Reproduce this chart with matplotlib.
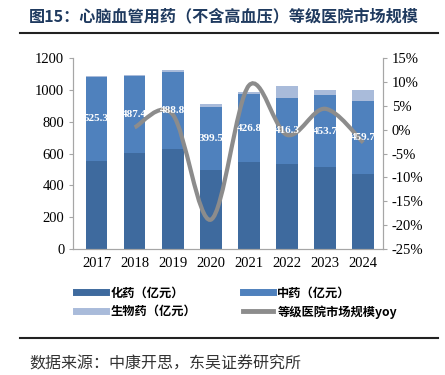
import numpy as np
import matplotlib
matplotlib.use("Agg")
import matplotlib.pyplot as plt
from matplotlib.path import Path
from matplotlib.patches import PathPatch
from matplotlib.lines import Line2D

# data
years = ["2017", "2018", "2019", "2020", "2021", "2022", "2023", "2024"]
chem = [555, 602, 626, 496, 546, 534, 514, 473]          # 化药
tcm = [525.3, 487.4, 488.8, 399.5, 426.8, 416.3, 453.7, 459.7]  # 中药
bio = [8, 8, 11, 16, 12, 75, 30, 65]                     # 生物药
yoy_years = ["2018", "2019", "2020", "2021", "2022", "2023", "2024"]
yoy = [0.5, 3.2, -18.9, 9.3, -1.1, 4.4, -2.7]            # 等级医院市场规模yoy (%)

c_chem = "#3E6A9E"
c_tcm = "#4F81BD"
c_bio = "#A9BBDA"
c_line = "#8C8C8C"

serif = "Liberation Serif"
cjk = ["Noto Sans CJK SC", "DejaVu Sans"]

fig = plt.figure(figsize=(4.45, 3.75), dpi=100)
ax = fig.add_axes([0.1647, 0.3368, 0.6953, 0.5077])
ax2 = ax.twinx()

x = np.arange(len(years))
w = 0.57
chem = np.array(chem)
tcm = np.array(tcm)
bio = np.array(bio)
ax.bar(x, chem, w, color=c_chem, edgecolor="none")
ax.bar(x, tcm, w, bottom=chem, color=c_tcm, edgecolor="none")
ax.bar(x, bio, w, bottom=chem + tcm, color=c_bio, edgecolor="none")

# labels drawn on the top axes so they sit above the line
for xi, b, v in zip(x, chem, tcm):
    ax2.text(xi, b + v / 2, f"{v:.1f}", transform=ax.transData, ha="center",
             va="center", color="white", fontsize=8, fontweight="bold",
             family=serif, zorder=6)

# smoothed yoy line (Excel-style Bezier through points)
xs = np.array([years.index(y) for y in yoy_years], dtype=float)
ys = np.array(yoy, dtype=float)
pts = np.column_stack([xs, ys])
verts = [pts[0]]
codes = [Path.MOVETO]
n = len(pts)
for i in range(n - 1):
    p0 = pts[i - 1] if i > 0 else pts[i]
    p1 = pts[i]
    p2 = pts[i + 1]
    p3 = pts[i + 2] if i + 2 < n else pts[i + 1]
    c1 = p1 + (p2 - p0) / 6
    c2 = p2 - (p3 - p1) / 6
    verts += [c1, c2, p2]
    codes += [Path.CURVE4] * 3
ax2.add_patch(PathPatch(Path(verts, codes), facecolor="none", edgecolor=c_line,
                        lw=3, capstyle="butt", zorder=4))

ax.set_xlim(-0.61, 7.51)
ax.set_ylim(0, 1200)
ax.set_yticks(range(0, 1201, 200))
ax2.set_ylim(-25, 15)
ax2.set_yticks(range(-25, 16, 5))
ax2.set_yticklabels([f"{v}%" for v in range(-25, 16, 5)])
ax.set_xticks(x)
ax.set_xticklabels(years)

for a in (ax, ax2):
    for s in a.spines.values():
        s.set_color("#A6A6A6")
    a.spines["top"].set_visible(False)
    a.tick_params(colors="#A6A6A6", labelcolor="black", labelsize=10.5, length=3)
    for lab in a.get_yticklabels() + a.get_xticklabels():
        lab.set_family(serif)
ax.tick_params(axis="x", length=0, pad=6)
ax.set_zorder(ax2.get_zorder() - 1)
ax2.patch.set_visible(False)

# legend (column-major order so rows read 化药/中药, 生物药/yoy)
handles = [Line2D([], [], color=c_chem, lw=5),
           Line2D([], [], color=c_bio, lw=5),
           Line2D([], [], color=c_tcm, lw=5),
           Line2D([], [], color=c_line, lw=3.5)]
labels = ["化药（亿元）", "生物药（亿元）", "中药（亿元）", "等级医院市场规模yoy"]
fig.legend(handles, labels, loc="center left", bbox_to_anchor=(0.145, 0.193), ncol=2,
           frameon=False, handlelength=2.5, handletextpad=0.35, columnspacing=3.8,
           labelspacing=0.45, prop={"family": cjk, "weight": "bold", "size": 8.8})

# title, rules, source
fig.text(0.065, 0.957, "图15：心脑血管用药（不含高血压）等级医院市场规模", family=cjk,
         fontsize=11.6, fontweight="bold", color="#1F3A5F", va="center", ha="left")
fig.add_artist(Line2D([0.045, 0.984], [0.911, 0.911], color="#222222", lw=1.5))
fig.add_artist(Line2D([0.045, 0.984], [0.099, 0.099], color="#222222", lw=1.5))
fig.text(0.067, 0.029, "数据来源：中康开思，东吴证券研究所", family=cjk,
         fontsize=11.5, color="#333333", va="center", ha="left")

fig.savefig("out.png", dpi=100)
